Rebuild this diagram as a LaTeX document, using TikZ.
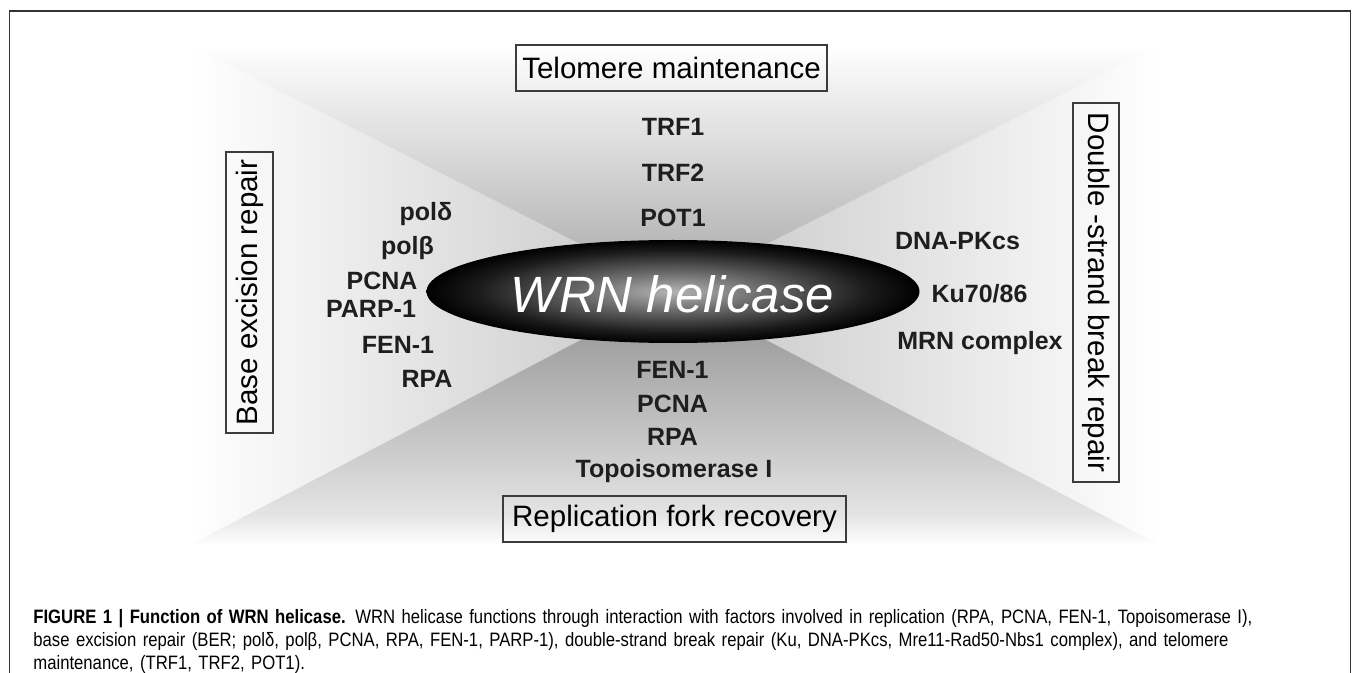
\documentclass[tikz,border=0pt]{standalone}
\usepackage{fontspec}
\setmainfont{Liberation Sans}
\newfontfamily\capfont[FakeStretch=0.86]{Liberation Sans}
\usetikzlibrary{shapes.geometric}

\definecolor{framegray}{HTML}{333333}
\definecolor{boxgray}{HTML}{3C3C3C}
\definecolor{labelgray}{HTML}{1E1E1E}
\definecolor{fanside}{HTML}{C6C6C6}
\definecolor{fantop}{HTML}{A6A6A6}
\definecolor{fanmid}{HTML}{D4D4D4}
\definecolor{fanbottom}{HTML}{8E8E8E}
\definecolor{fanfoot}{HTML}{E4E4E4}
\definecolor{wrnlight}{HTML}{B4B4B4}
\definecolor{wrnmid}{HTML}{6C6C6C}
\definecolor{wrndark}{HTML}{1A1A1A}

\pgfdeclareradialshading{wrnball}{\pgfpoint{0bp}{0bp}}{color(0bp)=(wrnlight); color(9bp)=(wrnmid); color(20bp)=(wrndark); color(25bp)=(black); color(50bp)=(black)}
\pgfdeclareverticalshading{fanfade}{100bp}{color(0bp)=(white); color(25bp)=(white); color(31bp)=(fanfoot); color(75bp)=(fanbottom); color(100bp)=(fanbottom)}

\tikzset{
  headbox/.style={draw=boxgray, line width=0.6pt, inner sep=0pt, font=\fontsize{14.75}{17}\selectfont},
  factor/.style={anchor=base, inner sep=0pt, text=labelgray, font=\bfseries\fontsize{12.5}{14}\selectfont},
  wrn/.style={ellipse, shade, shading=wrnball, minimum width=246.5pt, minimum height=51.5pt, inner sep=0pt},
}

\begin{document}
\begin{tikzpicture}[x=0.5pt, y=-0.5pt]
    \useasboundingbox (0,0) rectangle (1352,673);

    % Draw Outer Frame
    \draw[framegray, line width=0.6pt] (9.5,673) -- (9.5,11) -- (1350.5,11) -- (1350.5,673);

    % Draw Background Fan
    \coordinate (c) at (673,291.5);
    \coordinate (tl) at (190,45);
    \coordinate (tr) at (1160,45);
    \coordinate (bl) at (190,545);
    \coordinate (br) at (1160,545);
    \shade[left color=white, right color=fanside] (tl) -- (c) -- (bl) -- cycle;
    \shade[left color=fanside, right color=white] (tr) -- (c) -- (br) -- cycle;
    \shade[top color=white, bottom color=fantop, middle color=fanmid] (tl) -- (tr) -- (c) -- cycle;
    \shade[shading=fanfade] (bl) -- (br) -- (c) -- cycle;

    % Draw WRN Ellipse
    \node[wrn] (wrn) at (c) {};
    \node[anchor=base, inner sep=0pt, text=white, font=\itshape\fontsize{25.5}{30}\selectfont] (wrnname) at (672.5,313) {WRN helicase};

    % Box Labels
    % -- top side
    \node[headbox, minimum width=155.5pt, minimum height=23pt] (telo) at (671.5,68) {Telomere maintenance};
    % -- bottom side
    \node[headbox, minimum width=171.5pt, minimum height=23pt] (fork) at (674.5,519) {Replication fork recovery};
    % -- left side
    \node[headbox, rotate=90, minimum width=140.5pt, minimum height=23.5pt] (ber) at (249.5,292.5) {Base excision repair};
    % -- right side
    \node[headbox, rotate=-90, minimum width=189.5pt, minimum height=23pt] (dsb) at (1096,292.5) {Double -strand break repair};

    % Factor Names
    % -- telomere maintenance
    \node[factor] (trf1) at (673,136) {TRF1};
    \node[factor] (trf2) at (673,182) {TRF2};
    \node[factor] (pot1) at (673,227) {POT1};
    % -- replication fork recovery
    \node[factor] (fenrep) at (672.5,378) {FEN-1};
    \node[factor] (pcnarep) at (672.5,412) {PCNA};
    \node[factor] (rparep) at (672.5,445) {RPA};
    \node[factor] (topo) at (674,477) {Topoisomerase I};
    % -- base excision repair
    \node[factor] (pold) at (426,221) {polδ};
    \node[factor] (polb) at (407.5,255) {polβ};
    \node[factor] (pcnaber) at (382,290) {PCNA};
    \node[factor] (parp) at (371,317) {PARP-1};
    \node[factor] (fenber) at (398,353) {FEN-1};
    \node[factor] (rpaber) at (427,387) {RPA};
    % -- double-strand break repair
    \node[factor] (dnapk) at (957.5,250) {DNA-PKcs};
    \node[factor] (ku) at (979.5,302) {Ku70/86};
    \node[factor] (mrn) at (980,350) {MRN complex};

    % Caption
    \node[anchor=north west, inner sep=0pt, text width=634.5pt, font=\capfont\fontsize{9.7}{11.5}\selectfont] (caption) at (33,609)
      {\tolerance=9999\hbadness=10000
       \textbf{FIGURE 1 | Function of WRN helicase.} WRN helicase functions through interaction with factors involved in replication (RPA, PCNA, FEN-1, Topoisomerase~I),\linebreak
       base excision repair (BER; polδ, polβ, PCNA, RPA, FEN-1, PARP-1), double-strand break repair (Ku, DNA-PKcs, Mre11-Rad50-Nbs1 complex), and telomere\linebreak
       maintenance, (TRF1, TRF2, POT1).};
\end{tikzpicture}
\end{document}
